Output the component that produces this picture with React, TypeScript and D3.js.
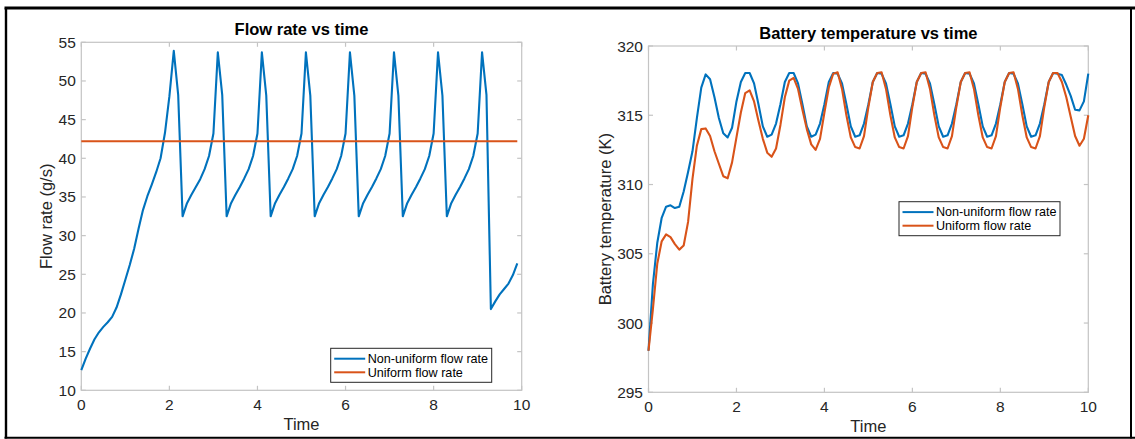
import React from 'react';
import * as d3 from 'd3';

// ---------- data ----------
const timeStep = 0.1;
const xTicks = [0, 2, 4, 6, 8, 10];
const flowTicks = [10, 15, 20, 25, 30, 35, 40, 45, 50, 55];
const tempTicks = [295, 300, 305, 310, 315, 320];
const seriesNames = ['Non-uniform flow rate', 'Uniform flow rate'];

// flow rate (g/s), t = 0 .. 9.9
const flowNonUniform = [
  12.6, 14.1, 15.4, 16.6, 17.5, 18.2, 18.8, 19.5, 20.7, 22.4,
  24.3, 26.2, 28.3, 30.9, 33.3, 35.1, 36.6, 38.2, 40.0, 43.3,
  48.0, 53.9, 48.2, 32.5, 34.2, 35.3, 36.3, 37.3, 38.6, 40.3,
  43.2, 53.7, 48.2, 32.5, 34.2, 35.3, 36.3, 37.4, 38.6, 40.3,
  43.2, 53.7, 48.1, 32.5, 34.2, 35.3, 36.3, 37.4, 38.6, 40.3,
  43.2, 53.7, 48.1, 32.5, 34.2, 35.3, 36.3, 37.4, 38.6, 40.3,
  43.2, 53.7, 48.1, 32.5, 34.2, 35.3, 36.3, 37.4, 38.6, 40.3,
  43.2, 53.7, 48.1, 32.5, 34.2, 35.3, 36.3, 37.4, 38.6, 40.3,
  43.2, 53.7, 48.1, 32.5, 34.2, 35.3, 36.3, 37.4, 38.6, 40.3,
  43.2, 53.7, 48.2, 20.5, 21.5, 22.4, 23.1, 23.8, 24.9, 26.4,
];
const flowUniformTime = [0, 9.9];
const flowUniform = [42.2, 42.2];

// battery temperature (K), t = 0 .. 10
const tempNonUniform = [
  298.0, 302.8, 305.8, 307.6, 308.4, 308.5, 308.3, 308.4, 309.5, 310.9,
  312.4, 314.8, 317.0, 317.95, 317.6, 316.3, 314.8, 313.7, 313.4, 314.1,
  316.0, 317.4, 318.05, 318.05, 317.3, 315.8, 314.2, 313.45, 313.6, 314.4,
  315.8, 317.4, 318.05, 318.05, 317.3, 315.8, 314.2, 313.45, 313.6, 314.4,
  315.8, 317.4, 318.05, 318.0, 317.3, 315.8, 314.2, 313.45, 313.55, 314.4,
  315.8, 317.4, 318.05, 318.0, 317.3, 315.8, 314.2, 313.45, 313.55, 314.4,
  315.8, 317.4, 318.05, 318.0, 317.3, 315.8, 314.2, 313.45, 313.55, 314.4,
  315.8, 317.4, 318.05, 318.0, 317.3, 315.8, 314.2, 313.45, 313.55, 314.4,
  315.8, 317.4, 318.05, 318.0, 317.3, 315.8, 314.2, 313.45, 313.55, 314.4,
  315.8, 317.4, 318.05, 318.0, 317.9, 317.2, 316.4, 315.4, 315.35, 316.0,
  318.0,
];
const tempUniform = [
  298.0, 301.0, 304.3, 305.9, 306.4, 306.2, 305.7, 305.3, 305.6, 307.3,
  310.4, 312.8, 314.0, 314.05, 313.5, 312.4, 311.5, 310.6, 310.45, 311.6,
  313.4, 315.2, 316.6, 316.8, 316.0, 314.6, 313.3, 312.3, 312.0, 312.6,
  314.3, 316.3, 317.5, 317.7, 316.9, 315.4, 314.0, 312.9, 312.5, 313.3,
  315.2, 317.0, 318.0, 318.1, 316.9, 315.0, 313.4, 312.7, 312.6, 313.5,
  315.6, 317.4, 318.05, 318.1, 316.9, 315.0, 313.4, 312.7, 312.6, 313.5,
  315.6, 317.4, 318.05, 318.1, 316.9, 315.0, 313.4, 312.7, 312.6, 313.5,
  315.6, 317.4, 318.05, 318.1, 316.9, 315.0, 313.4, 312.7, 312.6, 313.5,
  315.6, 317.4, 318.05, 318.1, 316.9, 315.0, 313.4, 312.7, 312.6, 313.5,
  315.6, 317.4, 318.05, 318.05, 317.4, 316.3, 314.9, 313.5, 312.8, 313.3,
  315.0,
];

// ---------- styles ----------
const BLUE = '#0072BD';
const ORANGE = '#D95319';
const AXIS = '#c4c4c4';
const TXT = '#262626';
const FONT = '"Liberation Sans", Arial, Helvetica, sans-serif';

type Series = { t: number[]; v: number[]; color: string };

type PanelProps = {
  left: number; right: number; top: number; bottom: number;
  yDomain: [number, number]; yTicks: number[];
  title: string; titleY: number; ylabel: string; ylabelX: number;
  series: Series[];
  legend: { x: number; y: number };
};

function Panel(p: PanelProps) {
  const x = d3.scaleLinear().domain([0, 10]).range([p.left, p.right]);
  const y = d3.scaleLinear().domain(p.yDomain).range([p.bottom, p.top]);
  const line = d3.line<[number, number]>().x(d => x(d[0])).y(d => y(d[1]));
  const tl = 4.5;
  const cx = (p.left + p.right) / 2;
  const cy = (p.top + p.bottom) / 2;
  const lw = 161, lh = 34;
  return (
    <g>
      <rect x={p.left} y={p.top} width={p.right - p.left} height={p.bottom - p.top}
        fill="white" stroke={AXIS} strokeWidth={1.2} />
      {xTicks.map(t => (
        <g key={'x' + t}>
          <line x1={x(t)} x2={x(t)} y1={p.bottom} y2={p.bottom - tl} stroke={AXIS} strokeWidth={1.2} />
          <line x1={x(t)} x2={x(t)} y1={p.top} y2={p.top + tl} stroke={AXIS} strokeWidth={1.2} />
          <text x={x(t)} y={p.bottom + 19.5} textAnchor="middle" fontSize={15.5} fill={TXT} fontFamily={FONT}>{t}</text>
        </g>
      ))}
      {p.yTicks.map(t => (
        <g key={'y' + t}>
          <line x1={p.left} x2={p.left + tl} y1={y(t)} y2={y(t)} stroke={AXIS} strokeWidth={1.2} />
          <line x1={p.right} x2={p.right - tl} y1={y(t)} y2={y(t)} stroke={AXIS} strokeWidth={1.2} />
          <text x={p.left - 5.5} y={y(t) + 5.5} textAnchor="end" fontSize={15.5} fill={TXT} fontFamily={FONT}>{t}</text>
        </g>
      ))}
      {p.series.map((s, i) => (
        <path key={i} d={line(s.t.map((tt, j) => [tt, s.v[j]] as [number, number])) || ''}
          fill="none" stroke={s.color} strokeWidth={2.1} strokeLinejoin="round" />
      ))}
      <text x={cx} y={p.titleY} textAnchor="middle" fontSize={16.5} fontWeight="bold" fill="#000" fontFamily={FONT}>{p.title}</text>
      <text x={cx} y={p.bottom + 39.5} textAnchor="middle" fontSize={16.5} fill={TXT} fontFamily={FONT}>Time</text>
      <text transform={`translate(${p.ylabelX},${cy}) rotate(-90)`} textAnchor="middle" fontSize={16.5} fill={TXT} fontFamily={FONT}>{p.ylabel}</text>
      <g transform={`translate(${p.legend.x},${p.legend.y})`}>
        <rect x={0} y={0} width={lw} height={lh} fill="white" stroke={TXT} strokeWidth={1} />
        {seriesNames.map((n, i) => (
          <g key={n}>
            <line x1={3.5} x2={34.5} y1={10.4 + i * 13.6} y2={10.4 + i * 13.6} stroke={i === 0 ? BLUE : ORANGE} strokeWidth={2} />
            <text x={37} y={10.4 + i * 13.6 + 4.4} fontSize={12.6} fill="#000" fontFamily={FONT}>{n}</text>
          </g>
        ))}
      </g>
    </g>
  );
}

export default function App() {
  const flowT = flowNonUniform.map((_, i) => i * timeStep);
  const tempT = tempNonUniform.map((_, i) => i * timeStep);
  return (
    <svg width={1135} height={439} style={{ position: 'absolute', left: 0, top: 0, background: 'white' }}>
      <rect x={0} y={0} width={1135} height={439} fill="white" />
      <Panel left={81.3} right={521.7} top={42.3} bottom={390.3}
        yDomain={[10, 55]} yTicks={flowTicks}
        title="Flow rate vs time" titleY={35} ylabel="Flow rate (g/s)" ylabelX={51.7}
        series={[
          { t: flowT, v: flowNonUniform, color: BLUE },
          { t: flowUniformTime, v: flowUniform, color: ORANGE },
        ]}
        legend={{ x: 330.7, y: 348.3 }} />
      <Panel left={648.5} right={1088.3} top={46} bottom={392.3}
        yDomain={[295, 320]} yTicks={tempTicks}
        title="Battery temperature vs time" titleY={39} ylabel="Battery temperature (K)" ylabelX={611}
        series={[
          { t: tempT, v: tempNonUniform, color: BLUE },
          { t: tempT, v: tempUniform, color: ORANGE },
        ]}
        legend={{ x: 899, y: 201.7 }} />
      <line x1={4.5} x2={1135} y1={8} y2={8} stroke="#000" strokeWidth={2.8} />
      <line x1={6} x2={6} y1={8} y2={438.5} stroke="#000" strokeWidth={2.4} />
      <line x1={4.5} x2={1135} y1={437.7} y2={437.7} stroke="#000" strokeWidth={2} />
      <line x1={1131} x2={1131} y1={8} y2={438.5} stroke="#000" strokeWidth={2} />
    </svg>
  );
}
